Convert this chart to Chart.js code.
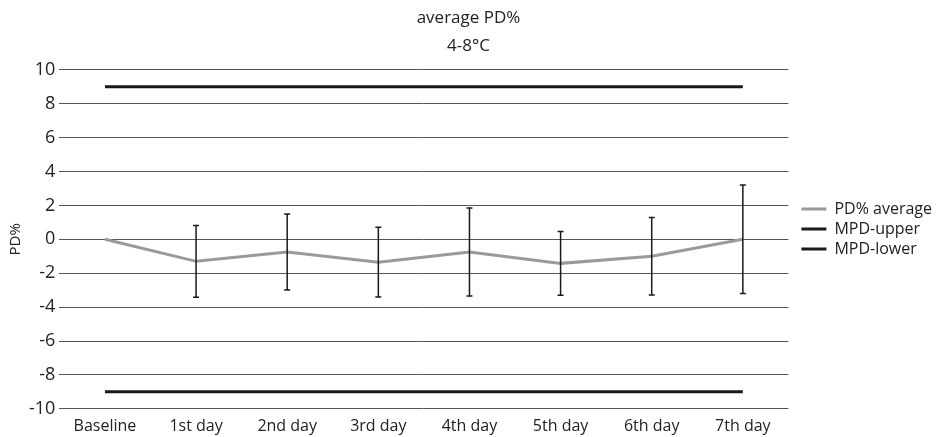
<!DOCTYPE html>
<html>
<head>
<meta charset="utf-8">
<script src="https://cdn.jsdelivr.net/npm/chart.js@4.4.0/dist/chart.umd.min.js"></script>
<style>
    html, body { margin: 0; padding: 0; background: #fff; }
    #wrap { width: 936px; height: 437px; }
</style>
</head>
<body>
<div id="wrap"><canvas id="chart"></canvas></div>
<script>
const categories = ['Baseline', '1st day', '2nd day', '3rd day', '4th day', '5th day', '6th day', '7th day']
const pdAverage = [0, -1.3, -0.75, -1.35, -0.75, -1.42, -1.0, 0]
const pdError = [0, 2.12, 2.24, 2.06, 2.6, 1.88, 2.28, 3.2]
const mpdUpper = [9, 9, 9, 9, 9, 9, 9, 9]
const mpdLower = [-9, -9, -9, -9, -9, -9, -9, -9]
const yTicks = [-10, -8, -6, -4, -2, 0, 2, 4, 6, 8, 10]

// error bars on the average series
const errorBars = {
    id: 'errorBars',
    afterDatasetsDraw(chart) {
        const meta = chart.getDatasetMeta(0)
        const yScale = chart.scales.y
        const ctx = chart.ctx
        ctx.save()
        ctx.strokeStyle = '#1a1a1a'
        ctx.lineWidth = 1.5
        meta.data.forEach((pt, i) => {
            const err = pdError[i]
            if (!err) return
            const top = yScale.getPixelForValue(pdAverage[i] + err)
            const bottom = yScale.getPixelForValue(pdAverage[i] - err)
            ctx.beginPath()
            ctx.moveTo(pt.x, top)
            ctx.lineTo(pt.x, bottom)
            ctx.moveTo(pt.x - 3, top)
            ctx.lineTo(pt.x + 3, top)
            ctx.moveTo(pt.x - 3, bottom)
            ctx.lineTo(pt.x + 3, bottom)
            ctx.stroke()
        })
        ctx.restore()
    },
}

// nudge the legend a bit down and right, like the original
const legendShift = {
    id: 'legendShift',
    afterLayout(chart) {
        const lg = chart.legend
        lg.top += 7
        lg.bottom += 7
        lg.left += 9
        lg.right += 9
    },
}

Chart.defaults.font.family = "'Open Sans', sans-serif"
Chart.defaults.color = '#222'

new Chart(document.getElementById('chart'), {
    type: 'line',
    data: {
        labels: categories,
        datasets: [
            {
                label: 'PD% average',
                data: pdAverage,
                borderColor: '#9a9a9a',
                backgroundColor: '#9a9a9a',
                borderWidth: 3,
                pointRadius: 0,
                tension: 0,
            },
            {
                label: 'MPD-upper',
                data: mpdUpper,
                borderColor: '#1a1a1a',
                backgroundColor: '#1a1a1a',
                borderWidth: 3,
                pointRadius: 0,
            },
            {
                label: 'MPD-lower',
                data: mpdLower,
                borderColor: '#1a1a1a',
                backgroundColor: '#1a1a1a',
                borderWidth: 3,
                pointRadius: 0,
            },
        ],
    },
    options: {
        responsive: true,
        maintainAspectRatio: false,
        animation: false,
        layout: { padding: { left: 4, right: 3, bottom: -7, top: 0 } },
        plugins: {
            title: {
                display: true,
                text: 'average PD%',
                font: { size: 17, weight: 'normal' },
                color: '#222',
                padding: { top: 8, bottom: 8 },
            },
            subtitle: {
                display: true,
                text: '4-8°C',
                font: { size: 17 },
                color: '#222',
                padding: { top: 0, bottom: 13 },
            },
            legend: {
                position: 'right',
                labels: {
                    boxWidth: 25,
                    boxHeight: 3,
                    padding: 4,
                    font: { size: 16 },
                    color: '#222',
                    generateLabels(chart) {
                        return Chart.defaults.plugins.legend.labels
                            .generateLabels(chart)
                            .map((item) => ({ ...item, lineWidth: 0 }))
                    },
                },
            },
            tooltip: { enabled: false },
        },
        scales: {
            x: {
                offset: true,
                grid: { display: false, drawTicks: false },
                border: { display: false },
                ticks: { font: { size: 16 }, color: '#222', padding: 8 },
            },
            y: {
                min: -10,
                max: 10,
                afterBuildTicks(axis) {
                    axis.ticks = yTicks.map((v) => ({ value: v }))
                },
                grid: { color: '#555', lineWidth: 1, drawTicks: false },
                border: { display: false },
                ticks: { font: { size: 18 }, color: '#222', padding: 4 },
                title: {
                    display: true,
                    text: 'PD%',
                    font: { size: 15 },
                    color: '#222',
                    padding: { top: 3, bottom: 0 },
                },
            },
        },
    },
    plugins: [errorBars, legendShift],
})
</script>
</body>
</html>
